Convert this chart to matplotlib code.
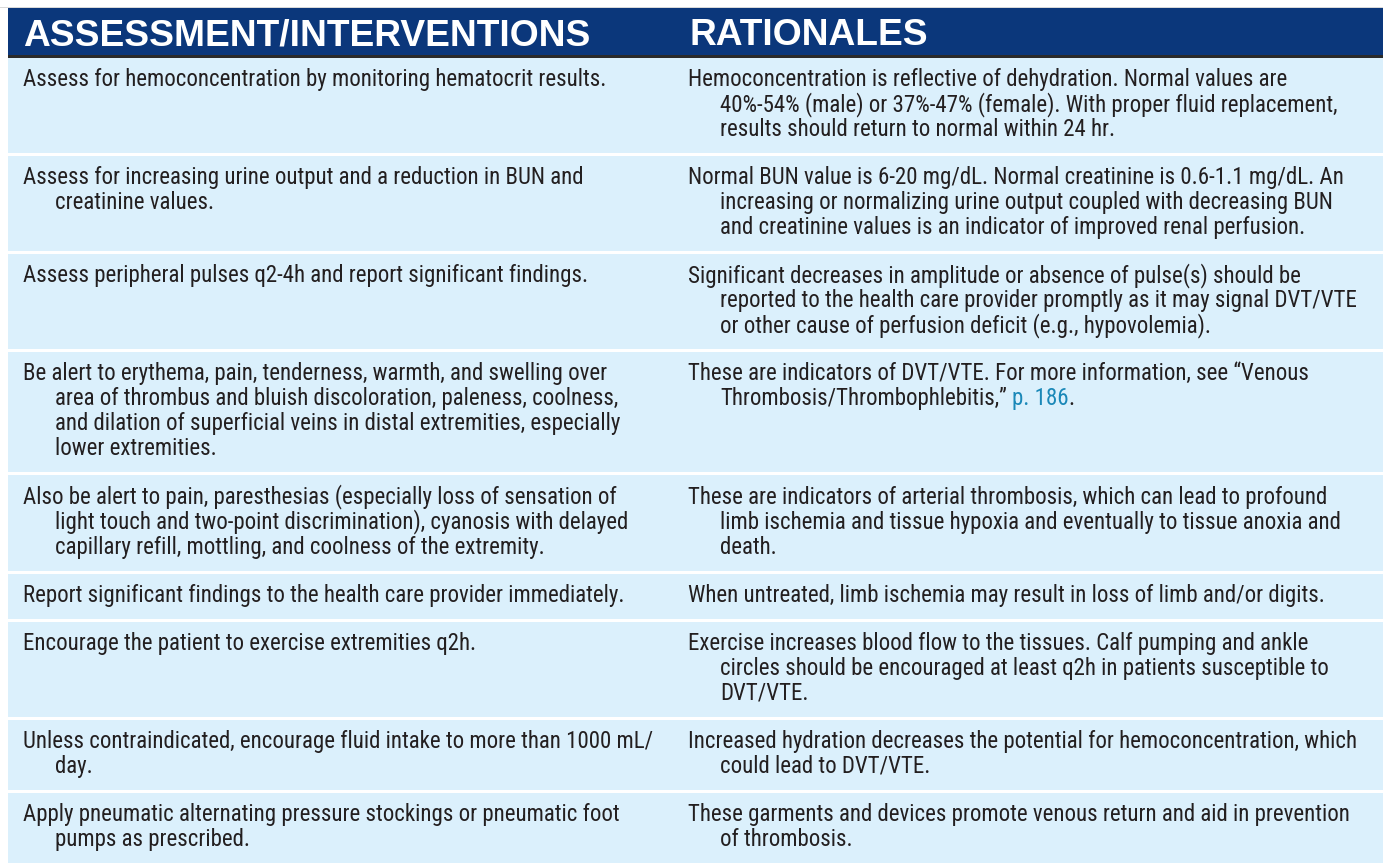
import matplotlib
matplotlib.use("Agg")
import matplotlib.pyplot as plt
from matplotlib import font_manager as fm
from matplotlib.patches import Rectangle

HEADERS = ["ASSESSMENT/INTERVENTIONS", "RATIONALES"]

interventions = [
    ["Assess for hemoconcentration by monitoring hematocrit results."],
    ["Assess for increasing urine output and a reduction in BUN and",
     "creatinine values."],
    ["Assess peripheral pulses q2-4h and report significant findings."],
    ["Be alert to erythema, pain, tenderness, warmth, and swelling over",
     "area of thrombus and bluish discoloration, paleness, coolness,",
     "and dilation of superficial veins in distal extremities, especially",
     "lower extremities."],
    ["Also be alert to pain, paresthesias (especially loss of sensation of",
     "light touch and two-point discrimination), cyanosis with delayed",
     "capillary refill, mottling, and coolness of the extremity."],
    ["Report significant findings to the health care provider immediately."],
    ["Encourage the patient to exercise extremities q2h."],
    ["Unless contraindicated, encourage fluid intake to more than 1000 mL/",
     "day."],
    ["Apply pneumatic alternating pressure stockings or pneumatic foot",
     "pumps as prescribed."],
]

rationales = [
    ["Hemoconcentration is reflective of dehydration. Normal values are",
     "40%-54% (male) or 37%-47% (female). With proper fluid replacement,",
     "results should return to normal within 24 hr."],
    ["Normal BUN value is 6-20 mg/dL. Normal creatinine is 0.6-1.1 mg/dL. An",
     "increasing or normalizing urine output coupled with decreasing BUN",
     "and creatinine values is an indicator of improved renal perfusion."],
    ["Significant decreases in amplitude or absence of pulse(s) should be",
     "reported to the health care provider promptly as it may signal DVT/VTE",
     "or other cause of perfusion deficit (e.g., hypovolemia)."],
    ["These are indicators of DVT/VTE. For more information, see \u201cVenous",
     "Thrombosis/Thrombophlebitis,\u201d [p. 186]."],
    ["These are indicators of arterial thrombosis, which can lead to profound",
     "limb ischemia and tissue hypoxia and eventually to tissue anoxia and",
     "death."],
    ["When untreated, limb ischemia may result in loss of limb and/or digits."],
    ["Exercise increases blood flow to the tissues. Calf pumping and ankle",
     "circles should be encouraged at least q2h in patients susceptible to",
     "DVT/VTE."],
    ["Increased hydration decreases the potential for hemoconcentration, which",
     "could lead to DVT/VTE."],
    ["These garments and devices promote venous return and aid in prevention",
     "of thrombosis."],
]

HEAD_BG = "#0b377b"
HEAD_LINE = "#2a2a2a"
CELL_BG = "#dbf0fc"
TEXT = "#231f20"
LINK = "#1a88b8"

W, H = 1383, 863

names = {f.name for f in fm.fontManager.ttflist}
body_font = next((n for n in ["Liberation Sans Narrow", "Roboto Condensed",
                              "Open Sans Condensed", "Liberation Sans"] if n in names),
                 "DejaVu Sans")
head_font = next((n for n in ["Liberation Sans", "Arial", "DejaVu Sans"] if n in names),
                 "DejaVu Sans")

fig = plt.figure(figsize=(W / 100, H / 100), dpi=100)
ax = fig.add_axes([0, 0, 1, 1])
ax.set_xlim(0, W)
ax.set_ylim(H, 0)
ax.axis("off")
renderer = fig.canvas.get_renderer()


def text_width(s, **kw):
    t = ax.text(0, 0, s, **kw)
    w = t.get_window_extent(renderer).width
    t.remove()
    return w


# fit font sizes to the measured line widths of the reference
body_kw = dict(family=body_font, fontstretch="condensed")
bsize = 16 * 584 / text_width(interventions[0][0], fontsize=16, **body_kw)
body_kw["fontsize"] = bsize
head_kw = dict(family=head_font, fontweight="bold", color="white")
hsize = 24 * 567 / text_width(HEADERS[0], fontsize=24, **head_kw)
head_kw["fontsize"] = hsize
space_w = text_width("x x", **body_kw) - text_width("xx", **body_kw)

left_x, right_x, indent = 23, 688, 32
table_left = 8

# header band
ax.add_patch(Rectangle((0, 7), W, 1, color="#d9d9d9", lw=0))
ax.add_patch(Rectangle((table_left, 8), W - table_left, 47, color=HEAD_BG, lw=0))
ax.add_patch(Rectangle((table_left, 55), W - table_left, 3, color=HEAD_LINE, lw=0))
ax.text(left_x, 45, HEADERS[0], va="baseline", ha="left", **head_kw)
ax.text(right_x + 2, 45, HEADERS[1], va="baseline", ha="left", **head_kw)

# body rows: height from line counts, padding spread to fill the page
pitch, sep = 25, 3
counts = [max(len(a), len(b)) for a, b in zip(interventions, rationales)]
body_top = 58
pad = (H - body_top - pitch * sum(counts) - sep * (len(counts) - 1)) / len(counts)


def draw_line(x, y, s):
    # "[...]" marks a cross reference drawn in link colour
    if "[" not in s:
        ax.text(x, y, s, va="baseline", ha="left", color=TEXT, **body_kw)
        return
    pre, rest = s.split("[", 1)
    link, post = rest.split("]", 1)
    parts = [(pre.rstrip(), TEXT), (link, LINK), (post, TEXT)]
    gap_after = [pre.endswith(" "), False, False]
    inv = ax.transData.inverted()
    for (txt, col), gap in zip(parts, gap_after):
        t = ax.text(x, y, txt, va="baseline", ha="left", color=col, **body_kw)
        x1 = t.get_window_extent(renderer).x1
        x = inv.transform((x1, 0))[0] + (space_w if gap else 0)


y = body_top
for left, right, n in zip(interventions, rationales, counts):
    h = pitch * n + pad
    ax.add_patch(Rectangle((table_left, y), W - table_left, h, color=CELL_BG, lw=0))
    base = y + pad / 2 + 18
    for col_x, lines in ((left_x, left), (right_x, right)):
        for i, s in enumerate(lines):
            draw_line(col_x + (indent if i else 0), base + i * pitch, s)
    y += h + sep

fig.savefig("out.png", dpi=100, facecolor="white")
